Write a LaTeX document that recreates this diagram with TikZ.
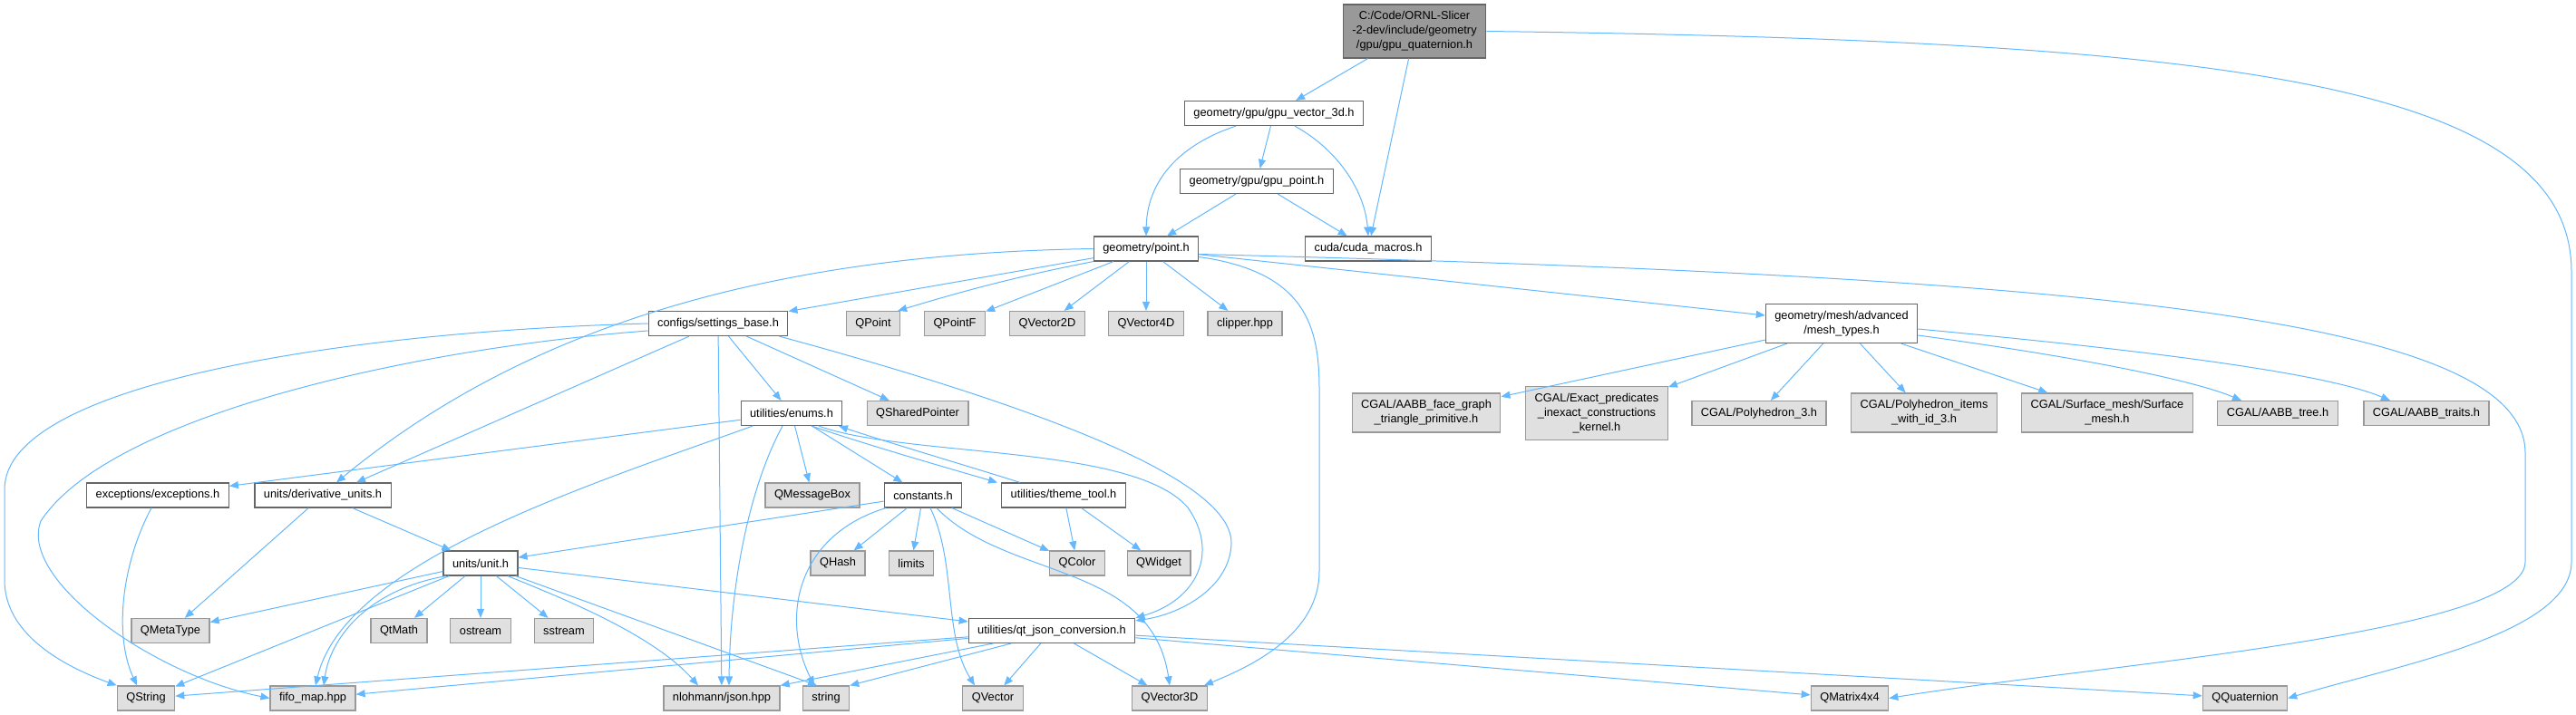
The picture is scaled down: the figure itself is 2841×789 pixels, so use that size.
\documentclass[tikz,border=0pt]{standalone}
\usepackage{fontspec}
\setmainfont{Liberation Sans}
\usetikzlibrary{arrows.meta}

\definecolor{edgeblue}{HTML}{63B8FF}
\definecolor{boxgray}{HTML}{666666}
\definecolor{extdraw}{HTML}{999999}
\definecolor{extfill}{HTML}{E0E0E0}
\definecolor{rootfill}{HTML}{999999}

\begin{document}
\begin{tikzpicture}[x=1pt, y=-1pt,
  every node/.style={font=\fontsize{12.8}{16}\selectfont},
  incbox/.style={draw=boxgray, fill=white, line width=1.2pt, minimum height=27pt,
    inner xsep=10pt, inner ysep=0pt, align=center},
  extbox/.style={incbox, draw=extdraw, fill=extfill},
  rootbox/.style={incbox, draw=boxgray, fill=rootfill},
  twoline/.style={minimum height=43pt},
  threeline/.style={minimum height=59pt},
  dep/.style={draw=edgeblue, line width=1pt, -{Triangle[length=10pt,width=8pt]}}]

  \useasboundingbox[fill=white] (0,0) rectangle (2841,789);

  \node[rootbox, threeline] (root) at (1560,34.5) {C:/Code/ORNL-Slicer\\-2-dev/include/geometry\\/gpu/gpu\_quaternion.h};
  \node[incbox] (v3d) at (1405,125) {geometry/gpu/gpu\_vector\_3d.h};
  \node[incbox] (gp) at (1386,200) {geometry/gpu/gpu\_point.h};
  \node[incbox] (pt) at (1264,274.5) {geometry/point.h};
  \node[incbox] (cuda) at (1509,274.5) {cuda/cuda\_macros.h};

  \node[incbox] (sb) at (792,357) {configs/settings\_base.h};
  \node[extbox] (qpoint) at (963,357) {QPoint};
  \node[extbox] (qpointf) at (1053,357) {QPointF};
  \node[extbox] (qv2d) at (1155,357) {QVector2D};
  \node[extbox] (qv4d) at (1264,357) {QVector4D};
  \node[extbox] (clip) at (1373,357) {clipper.hpp};
  \node[incbox, twoline] (mesh) at (2031,357) {geometry/mesh/advanced\\/mesh\_types.h};

  \node[incbox] (enums) at (873,456) {utilities/enums.h};
  \node[extbox] (qsp) at (1012,456) {QSharedPointer};
  \node[extbox, twoline] (cg1) at (1573,455.5) {CGAL/AABB\_face\_graph\\\_triangle\_primitive.h};
  \node[extbox, threeline] (cg2) at (1761,456) {CGAL/Exact\_predicates\\\_inexact\_constructions\\\_kernel.h};
  \node[extbox] (cg3) at (1940,456) {CGAL/Polyhedron\_3.h};
  \node[extbox, twoline] (cg4) at (2122,455.5) {CGAL/Polyhedron\_items\\\_with\_id\_3.h};
  \node[extbox, twoline] (cg5) at (2324,455.5) {CGAL/Surface\_mesh/Surface\\\_mesh.h};
  \node[extbox] (cg6) at (2512,456) {CGAL/AABB\_tree.h};
  \node[extbox] (cg7) at (2676,456) {CGAL/AABB\_traits.h};

  \node[incbox] (exc) at (174,546.5) {exceptions/exceptions.h};
  \node[incbox] (du) at (356,546.5) {units/derivative\_units.h};
  \node[extbox] (qmb) at (896,546.5) {QMessageBox};
  \node[incbox] (const) at (1018,546.5) {constants.h};
  \node[incbox] (theme) at (1173,546.5) {utilities/theme\_tool.h};

  \node[incbox] (unit) at (530,621.5) {units/unit.h};
  \node[extbox] (qhash) at (924,621.5) {QHash};
  \node[extbox] (limits) at (1005,621.5) {limits};
  \node[extbox] (qcolor) at (1188,621.5) {QColor};
  \node[extbox] (qwidget) at (1278,621.5) {QWidget};

  \node[extbox] (qmeta) at (188,696) {QMetaType};
  \node[extbox] (qtmath) at (440,696) {QtMath};
  \node[extbox] (ostream) at (530,696) {ostream};
  \node[extbox] (sstream) at (622,696) {sstream};
  \node[incbox] (qjson) at (1160,696) {utilities/qt\_json\_conversion.h};

  \node[extbox] (qstring) at (161,770.5) {QString};
  \node[extbox] (fifo) at (345,770.5) {fifo\_map.hpp};
  \node[extbox] (json) at (796,770.5) {nlohmann/json.hpp};
  \node[extbox] (string) at (911,770.5) {string};
  \node[extbox] (qvector) at (1095,770.5) {QVector};
  \node[extbox] (qv3d) at (1290,770.5) {QVector3D};
  \node[extbox] (qm44) at (2040,770.5) {QMatrix4x4};
  \node[extbox] (qquat) at (2476,770.5) {QQuaternion};

  \draw[dep] (root) -- (v3d);
  \draw[dep] (root) -- (cuda);
  \draw[dep] (root.east) .. controls (2450,45) and (2836,90) .. (2836,300) -- (2836,620)
    .. controls (2836,700) and (2640,735) .. (qquat.east);

  \draw[dep] ([xshift=-42pt]v3d.south) .. controls (1300,160) and (1265,200) .. (pt.north);
  \draw[dep] (v3d) -- (gp);
  \draw[dep] ([xshift=23pt]v3d.south) .. controls (1475,165) and (1505,210) .. (cuda.north);
  \draw[dep] (gp) -- (pt);
  \draw[dep] (gp) -- (cuda);

  \draw[dep] (pt) -- (sb);
  \draw[dep] (pt.south west) .. controls (1110,307) and (1040,328) .. ([xshift=-3pt]qpoint.north east);
  \draw[dep] (pt) -- (qpointf);
  \draw[dep] (pt) -- (qv2d);
  \draw[dep] (pt) -- (qv4d);
  \draw[dep] (pt) -- (clip);
  \draw[dep] (pt) -- (mesh);
  \draw[dep] ([yshift=-6pt]pt.east) .. controls (2300,305) and (2785,350) .. (2785,500) -- (2785,620)
    .. controls (2785,700) and (2300,735) .. (qm44.east);
  \draw[dep] ([yshift=-9pt]pt.east) .. controls (1440,300) and (1455,360) .. (1455,430) -- (1455,630)
    .. controls (1455,700) and (1380,735) .. ([xshift=-4pt]qv3d.north east);
  \draw[dep] (pt.west) .. controls (850,280) and (580,360) .. ([xshift=15pt]du.north);

  \draw[dep] (sb.west) .. controls (400,365) and (5,420) .. (5,540) -- (5,640)
    .. controls (5,700) and (70,735) .. (qstring.north west);
  \draw[dep] ([yshift=-8pt]sb.west) .. controls (450,385) and (120,460) .. (45,575)
    .. controls (20,640) and (170,745) .. (fifo.west);
  \draw[dep] (sb) -- ([xshift=37pt]du.north);
  \draw[dep] (sb) -- (enums);
  \draw[dep] (sb) -- (qsp);
  \draw[dep] (sb) -- (json);
  \draw[dep] ([xshift=-10pt]sb.south east) .. controls (1150,450) and (1360,530) .. (1358,600)
    .. controls (1356,650) and (1300,678) .. ([yshift=-3pt]qjson.north east);

  \draw[dep] (enums) -- (exc);
  \draw[dep] ([xshift=-43pt]enums.south) .. controls (650,535) and (380,620) .. ([xshift=3pt]fifo.north);
  \draw[dep] ([xshift=-10pt]enums.south) .. controls (825,540) and (805,650) .. ([xshift=8pt]json.north);
  \draw[dep] (enums) -- (qmb);
  \draw[dep] (enums) -- (const);
  \draw[dep] ([xshift=22pt]enums.south) .. controls (960,492) and (1040,515) .. ([xshift=-4pt]theme.north west);
  \draw[dep] ([xshift=30pt]enums.south) .. controls (1000,505) and (1250,490) .. (1310,560)
    .. controls (1345,610) and (1320,662) .. (qjson.north east);

  \draw[dep] ([xshift=-48pt]theme.north) .. controls (1060,512) and (985,490) .. ([xshift=52pt]enums.south);
  \draw[dep] (theme) -- (qcolor);
  \draw[dep] (theme) -- (qwidget);

  \draw[dep] (const) -- (unit);
  \draw[dep] (const) -- (qhash);
  \draw[dep] (const) -- (limits);
  \draw[dep] (const) -- (qcolor);
  \draw[dep] ([xshift=15pt]const.south) .. controls (1110,640) and (1270,620) .. (qv3d.north);
  \draw[dep] ([xshift=8pt]const.south) .. controls (1055,620) and (1040,700) .. ([xshift=-20pt]qvector.north);
  \draw[dep] ([xshift=-41pt]const.south) .. controls (880,590) and (860,680) .. ([xshift=-13pt]string.north);

  \draw[dep] (du) -- (qmeta);
  \draw[dep] (du) -- (unit);
  \draw[dep] ([xshift=-7pt]exc.south) .. controls (135,620) and (125,700) .. ([xshift=-10pt]qstring.north);

  \draw[dep] (unit) -- (qmeta);
  \draw[dep] (unit) -- (qtmath);
  \draw[dep] (unit) -- (ostream);
  \draw[dep] (unit) -- (sstream);
  \draw[dep] (unit) -- (qstring);
  \draw[dep] ([xshift=-38pt]unit.south) .. controls (410,650) and (365,700) .. ([xshift=12pt]fifo.north);
  \draw[dep] ([xshift=30pt]unit.south) .. controls (620,660) and (720,700) .. ([xshift=-26pt]json.north);
  \draw[dep] (unit) -- ([xshift=-10pt]string.north);
  \draw[dep] (unit) -- ([yshift=-4pt]qjson.north west);

  \draw[dep] (qjson) -- (qstring);
  \draw[dep] (qjson) -- (fifo);
  \draw[dep] ([xshift=-65pt]qjson.south) -- (json.north east);
  \draw[dep] ([xshift=-45pt]qjson.south) -- (string.north east);
  \draw[dep] (qjson) -- (qvector);
  \draw[dep] (qjson) -- (qv3d);
  \draw[dep] (qjson) -- (qm44);
  \draw[dep] (qjson) -- (qquat);

  \draw[dep] (mesh) -- (cg1);
  \draw[dep] (mesh) -- (cg2);
  \draw[dep] (mesh) -- (cg3);
  \draw[dep] (mesh) -- (cg4);
  \draw[dep] (mesh) -- (cg5);
  \draw[dep] ([yshift=-13pt]mesh.east) .. controls (2300,395) and (2420,420) .. ([xshift=-40pt]cg6.north);
  \draw[dep] ([yshift=-6pt]mesh.east) .. controls (2350,385) and (2560,410) .. ([xshift=-40pt]cg7.north);
\end{tikzpicture}
\end{document}
